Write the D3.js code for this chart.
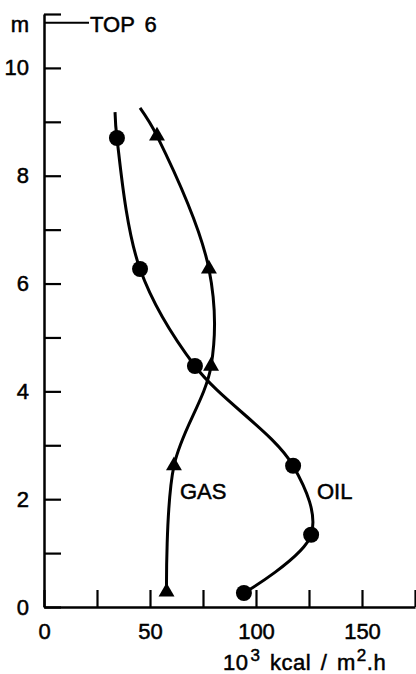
<!DOCTYPE html>
<html>
<head>
<meta charset="utf-8">
<script src="https://cdn.jsdelivr.net/npm/d3@7"></script>
<style>
  html, body { margin: 0; padding: 0; background: #fff; }
  text { font-family: "Liberation Sans", Arial, sans-serif; fill: #000; }
</style>
</head>
<body>
<svg id="chart" width="416" height="674"></svg>
<script>
// ---- data ----
const oilFlux  = [34.4, 45.3, 71.2, 117.5, 126.0, 94.3];
const oilDepth = [8.70, 6.27, 4.47, 2.62, 1.34, 0.26];
const oilLineTop = [33.5, 9.18];           // curve start above first point

const gasFlux  = [53.3, 77.8, 78.8, 61.3, 57.8];
const gasDepth = [8.74, 6.27, 4.47, 2.62, 0.28];
const gasLineTop = [45.3, 9.26];

const xTicks = [0, 25, 50, 75, 100, 125, 150, 175];
const xTickLabels = ["0", "", "50", "", "100", "", "150", ""];
const yTicks = [0, 1, 2, 3, 4, 5, 6, 7, 8, 9, 10, 11];
const yTickLabels = ["0", "", "2", "", "4", "", "6", "", "8", "", "10", ""];
const topLevel = 10.84;   // "TOP 6" mark

const svg = d3.select("#chart");
const x = d3.scaleLinear().domain([0, 175]).range([44, 415]);
const y = d3.scaleLinear().domain([0, 11]).range([607, 14]);

const FS = 22;

// x axis
const xAxis = d3.axisBottom(x).tickValues(xTicks)
  .tickFormat((d, i) => xTickLabels[i]).tickSizeInner(-17).tickSizeOuter(0).tickPadding(16);
const gx = svg.append("g").attr("transform", `translate(0,${y(0)})`).call(xAxis);
gx.select(".domain").attr("stroke", "#000").attr("stroke-width", 2.5);
gx.selectAll(".tick line").attr("stroke", "#000").attr("stroke-width", 2.2);
gx.selectAll(".tick text").attr("font-size", FS).attr("font-family", "Liberation Sans")
  .attr("fill", "#000").attr("stroke", "#000").attr("stroke-width", 0.5);

// y axis
const yAxis = d3.axisLeft(y).tickValues(yTicks)
  .tickFormat((d, i) => yTickLabels[i]).tickSizeInner(-17).tickSizeOuter(0).tickPadding(15);
const gy = svg.append("g").attr("transform", `translate(${x(0)},0)`).call(yAxis);
gy.select(".domain").attr("stroke", "#000").attr("stroke-width", 2.5);
gy.selectAll(".tick line").attr("stroke", "#000").attr("stroke-width", 2.2);
gy.selectAll(".tick text").attr("font-size", FS).attr("font-family", "Liberation Sans")
  .attr("fill", "#000").attr("stroke", "#000").attr("stroke-width", 0.5);

// "m" unit and TOP 6 line
svg.append("text").attr("x", 20).attr("y", y(topLevel) + 9).attr("text-anchor", "middle")
  .attr("font-size", FS).attr("stroke", "#000").attr("stroke-width", 0.5).text("m");
svg.append("line").attr("x1", x(0)).attr("x2", x(0) + 45)
  .attr("y1", y(topLevel)).attr("y2", y(topLevel)).attr("stroke", "#000").attr("stroke-width", 2);
svg.append("text").attr("x", x(0) + 46).attr("y", y(topLevel) + 9)
  .attr("font-size", FS).attr("stroke", "#000").attr("stroke-width", 0.5)
  .attr("word-spacing", 4).text("TOP 6");

// axis title
const title = svg.append("text").attr("x", 223).attr("y", 670)
  .attr("font-size", FS).attr("stroke", "#000").attr("stroke-width", 0.5)
  .attr("word-spacing", 3).attr("letter-spacing", 0.5);
title.append("tspan").text("10");
title.append("tspan").attr("font-size", 17).attr("dy", -9).attr("dx", 2).text("3");
title.append("tspan").attr("dy", 9).text(" kcal / m");
title.append("tspan").attr("font-size", 17).attr("dy", -9).attr("dx", 1).text("2");
title.append("tspan").attr("dy", 9).text(".h");

// curves
const line = d3.line().x(d => x(d[0])).y(d => y(d[1])).curve(d3.curveCatmullRom.alpha(0.5));
const oilPts = [oilLineTop].concat(oilFlux.map((v, i) => [v, oilDepth[i]]));
const gasPts = [gasLineTop].concat(gasFlux.map((v, i) => [v, gasDepth[i]]));

svg.append("path").datum(oilPts).attr("d", line)
  .attr("fill", "none").attr("stroke", "#000").attr("stroke-width", 3);
svg.append("path").datum(gasPts).attr("d", line)
  .attr("fill", "none").attr("stroke", "#000").attr("stroke-width", 3);

// markers
svg.selectAll("circle.oil").data(oilFlux).join("circle").attr("class", "oil")
  .attr("cx", d => x(d)).attr("cy", (d, i) => y(oilDepth[i])).attr("r", 8).attr("fill", "#000");

const tri = d3.symbol().type(d3.symbolTriangle).size(110);
svg.selectAll("path.gas").data(gasFlux).join("path").attr("class", "gas")
  .attr("d", tri).attr("fill", "#000")
  .attr("transform", (d, i) => `translate(${x(d)},${y(gasDepth[i])})`);

// series labels
svg.append("text").attr("x", 180).attr("y", 499).attr("font-size", FS)
  .attr("stroke", "#000").attr("stroke-width", 0.5).text("GAS");
svg.append("text").attr("x", 317).attr("y", 499).attr("font-size", FS)
  .attr("stroke", "#000").attr("stroke-width", 0.5).text("OIL");
</script>
</body>
</html>
